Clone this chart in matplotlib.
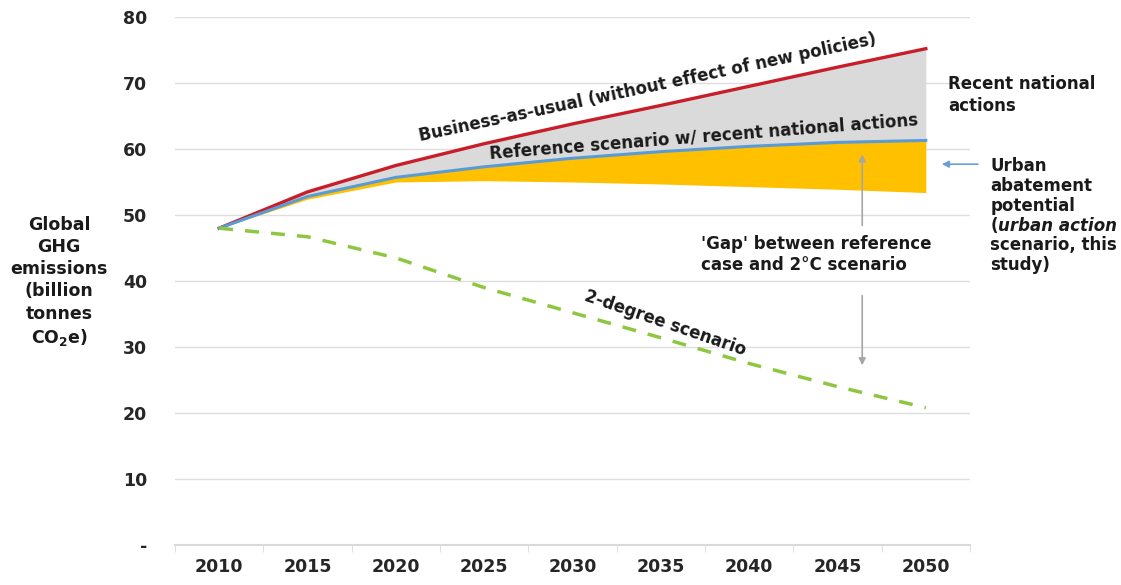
import numpy as np
import matplotlib.pyplot as plt

# Scenario data (billion tonnes CO2e)
years = [2010, 2015, 2020, 2025, 2030, 2035, 2040, 2045, 2050]
bau = [48.0, 53.5, 57.5, 60.8, 63.8, 66.6, 69.5, 72.4, 75.2]
reference = [48.0, 52.8, 55.7, 57.3, 58.6, 59.6, 60.4, 61.0, 61.3]
urban_action = [48.0, 52.4, 55.0, 55.2, 55.0, 54.7, 54.3, 53.9, 53.4]
two_degree = [48.0, 46.7, 43.5, 39.0, 35.2, 31.4, 27.5, 24.0, 20.8]
yticks = [0, 10, 20, 30, 40, 50, 60, 70, 80]
ytick_labels = ["-", "10", "20", "30", "40", "50", "60", "70", "80"]

plt.rcParams["font.family"] = ["DejaVu Sans"]
plt.rcParams["font.weight"] = "bold"

fig = plt.figure(figsize=(11.21, 5.85), dpi=100)
ax = fig.add_axes([175 / 1121, 40 / 585, 795 / 1121, 528 / 585])

x = np.arange(len(years))
ax.fill_between(x, reference, bau, color="#dadada", lw=0)
ax.fill_between(x, urban_action, reference, color="#ffc000", lw=0)
ax.plot(x, bau, color="#c81e2a", lw=2.4)
ax.plot(x, reference, color="#5b9bd5", lw=2.2)
ax.plot(x, two_degree, color="#8dc63f", lw=2.5, ls=(0, (4, 3.5)))

ax.set_xlim(-0.5, len(years) - 0.5)
ax.set_ylim(0, 80)
ax.set_yticks(yticks)
ax.set_yticklabels(ytick_labels)
ax.set_xticks(x)
ax.set_xticklabels([str(y) for y in years])
ax.set_xticks(np.arange(len(years) + 1) - 0.5, minor=True)
ax.tick_params(axis="x", which="major", length=0, pad=9, labelsize=12.5)
ax.tick_params(axis="x", which="minor", length=5, color="#d9d9d9", direction="out")
ax.tick_params(axis="y", length=0, pad=20, labelsize=12.5)
for lab in ax.get_xticklabels() + ax.get_yticklabels():
    lab.set_color("#262626")
    lab.set_fontweight("bold")

ax.yaxis.grid(True, color="#dedede", lw=1)
ax.set_axisbelow(True)
for s in ["left", "right", "top"]:
    ax.spines[s].set_visible(False)
ax.spines["bottom"].set_color("#d9d9d9")
ax.spines["bottom"].set_linewidth(1.5)

txt = dict(fontsize=12, fontweight="bold", color="#1a1a1a", clip_on=False)
ax.text(4.85, 69.3, "Business-as-usual (without effect of new policies)",
        rotation=12, ha="center", va="center", **txt)
ax.text(5.49, 61.9, "Reference scenario w/ recent national actions",
        rotation=4.5, ha="center", va="center", **txt)
ax.text(5.05, 33.6, "2-degree scenario", rotation=-19, ha="center",
        va="center", **txt)
ax.text(5.45, 44.0, "'Gap' between reference\ncase and 2°C scenario",
        ha="left", va="center", linespacing=1.25, **txt)
ax.text(8.25, 68.2, "Recent national\nactions", ha="left", va="center",
        linespacing=1.25, **txt)

# urban abatement label, one line at a time (one word is italic)
ux = 8.73
uy = [57.4, 54.4, 51.4, 48.4, 45.4, 42.4]
ax.text(ux, uy[0], "Urban", ha="left", va="center", **txt)
ax.text(ux, uy[1], "abatement", ha="left", va="center", **txt)
ax.text(ux, uy[2], "potential", ha="left", va="center", **txt)
t = ax.text(ux, uy[3], "(", ha="left", va="center", **txt)
ax.annotate("urban action", xy=(1, 0.5), xycoords=t, ha="left", va="center",
            style="italic", fontsize=12, fontweight="bold", color="#1a1a1a",
            annotation_clip=False)
ax.text(ux, uy[4], "scenario, this", ha="left", va="center", **txt)
ax.text(ux, uy[5], "study)", ha="left", va="center", **txt)

# gap arrows
ax.annotate("", xy=(7.28, 59.6), xytext=(7.28, 48.0),
            arrowprops=dict(arrowstyle="-|>", color="#a6a6a6", lw=1.2,
                            mutation_scale=10))
ax.annotate("", xy=(7.28, 26.8), xytext=(7.28, 38.2),
            arrowprops=dict(arrowstyle="-|>", color="#a6a6a6", lw=1.2,
                            mutation_scale=10))
ax.annotate("", xy=(8.15, 57.7), xytext=(8.62, 57.7), annotation_clip=False,
            arrowprops=dict(arrowstyle="-|>", color="#6a9fd4", lw=1.2,
                            mutation_scale=10))

fig.text(59 / 1121, 1 - 282 / 585,
         "Global\nGHG\nemissions\n(billion\ntonnes\nCO$_\\mathbf{2}$e)",
         ha="center", va="center", fontsize=12.5, fontweight="bold",
         color="#1a1a1a", linespacing=1.3)

fig.savefig("out.png", dpi=100)
